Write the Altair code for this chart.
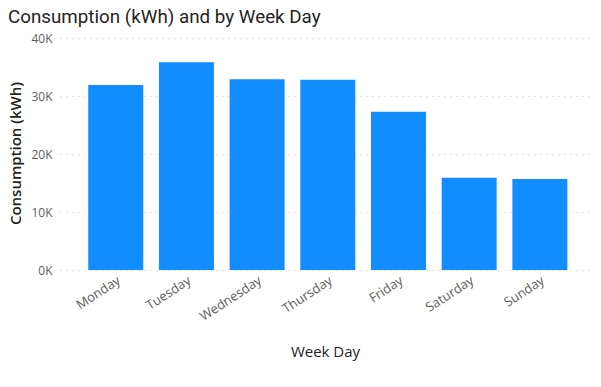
import altair as alt
import pandas as pd

days = ["Monday", "Tuesday", "Wednesday", "Thursday", "Friday", "Saturday", "Sunday"]
consumption = [31900, 35800, 32900, 32800, 27300, 15900, 15700]

df = pd.DataFrame({"Week Day": days, "Consumption": consumption})

chart = alt.Chart(df).mark_bar(color="#118DFF").encode(
    x=alt.X("Week Day:N", sort=days,
            scale=alt.Scale(paddingInner=0.222, paddingOuter=0.36, align=0.555),
            axis=alt.Axis(title="Week Day", labelAngle=-33, labelAlign="right",
                          labelBaseline="top", labelPadding=4, ticks=False, domain=False,
                          labelFont="Open Sans", labelFontSize=13, labelColor="#605E5C",
                          titleFont="Open Sans", titleFontSize=15, titleFontWeight=500,
                          titleColor="#252423", titleY=86, titleBaseline="alphabetic")),
    y=alt.Y("Consumption:Q", scale=alt.Scale(domain=[0, 40000]),
            axis=alt.Axis(title="Consumption (kWh)", values=[0, 10000, 20000, 30000, 40000],
                          labelExpr="format(datum.value/1000, 'd') + 'K'",
                          ticks=False, domain=False, labelPadding=8,
                          labelFont="Open Sans", labelFontSize=12, labelColor="#605E5C",
                          grid=True, gridDash=[1, 5], gridColor="#C8C6C4", gridWidth=1,
                          titleFont="Open Sans", titleFontSize=15, titleFontWeight=600,
                          titleColor="#252423", titleX=-52, titleY=115, titleAngle=-90,
                          titleBaseline="top", titleAlign="center")),
).properties(
    width=530, height=232,
    title=alt.TitleParams("Consumption (kWh) and by Week Day", anchor="start", frame="group",
                          font="Roboto", fontSize=18.8, fontWeight="normal",
                          color="#252423", dx=-52, offset=5),
    autosize=alt.AutoSizeParams(type="none"),
    padding={"left": 52, "top": 30, "right": 3, "bottom": 100},
).configure_view(stroke=None)

chart.save("out.html", embed_options={"renderer": "svg", "actions": False})
